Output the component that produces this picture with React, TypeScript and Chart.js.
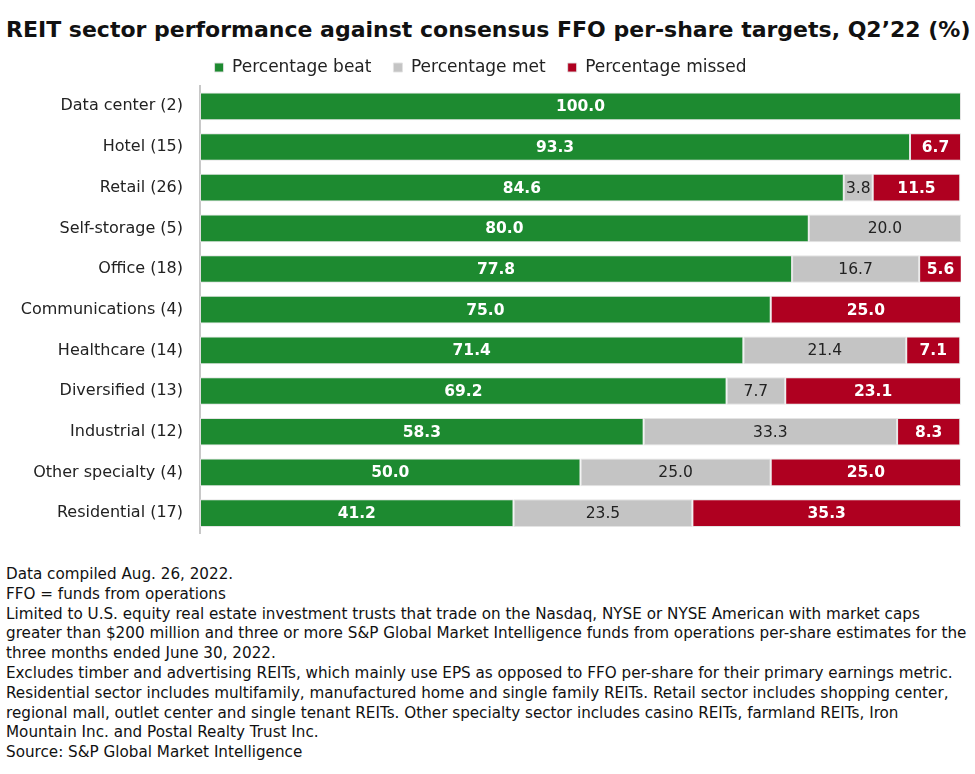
import React, { useEffect, useRef } from "react";
import { Chart, registerables } from "chart.js";

Chart.register(...registerables);

const categories = [
  "Data center (2)",
  "Hotel (15)",
  "Retail (26)",
  "Self-storage (5)",
  "Office (18)",
  "Communications (4)",
  "Healthcare (14)",
  "Diversified (13)",
  "Industrial (12)",
  "Other specialty (4)",
  "Residential (17)",
];
const beat = [100.0, 93.3, 84.6, 80.0, 77.8, 75.0, 71.4, 69.2, 58.3, 50.0, 41.2];
const met = [0, 0, 3.8, 20.0, 16.7, 0, 21.4, 7.7, 33.3, 25.0, 23.5];
const missed = [0, 6.7, 11.5, 0, 5.6, 25.0, 7.1, 23.1, 8.3, 25.0, 35.3];

const seriesNames = ["Percentage beat", "Percentage met", "Percentage missed"];
const GREEN = "#1d8a30";
const GRAY = "#c4c4c4";
const RED = "#af0020";

const titleText = "REIT sector performance against consensus FFO per-share targets, Q2\u201922 (%)";
const notes = [
  "Data compiled Aug. 26, 2022.",
  "FFO = funds from operations",
  "Limited to U.S. equity real estate investment trusts that trade on the Nasdaq, NYSE or NYSE American with market caps",
  "greater than $200 million and three or more S&P Global Market Intelligence funds from operations per-share estimates for the",
  "three months ended June 30, 2022.",
  "Excludes timber and advertising REITs, which mainly use EPS as opposed to FFO per-share for their primary earnings metric.",
  "Residential sector includes multifamily, manufactured home and single family REITs.  Retail sector includes shopping center,",
  "regional mall, outlet center and single tenant REITs. Other specialty sector includes casino REITs, farmland REITs, Iron",
  "Mountain Inc. and Postal Realty Trust Inc.",
  "Source: S&P Global Market Intelligence",
];

const FONT = "'DejaVu Sans', Verdana, sans-serif";

const labelPlugin = {
  id: "barLabels",
  afterDatasetsDraw(chart: any) {
    const ctx = chart.ctx;
    ctx.save();
    ctx.textAlign = "center";
    ctx.textBaseline = "middle";
    chart.data.datasets.forEach((ds: any, di: number) => {
      const meta = chart.getDatasetMeta(di);
      meta.data.forEach((bar: any, i: number) => {
        const v = ds.data[i];
        if (!v) return;
        const isGray = di === 1;
        ctx.font = (isGray ? "normal " : "bold ") + "15.5px " + FONT;
        ctx.fillStyle = isGray ? "#222222" : "#ffffff";
        const cx = (bar.x + bar.base) / 2;
        ctx.fillText(v.toFixed(1), cx, bar.y + 1);
      });
    });
    ctx.restore();
  },
};

export default function App() {
  const ref = useRef<HTMLCanvasElement>(null);
  useEffect(() => {
    document.body.style.margin = "0";
    const chart = new Chart(ref.current!, {
      type: "bar",
      data: {
        labels: categories,
        datasets: [
          { label: seriesNames[0], data: beat, backgroundColor: GREEN },
          { label: seriesNames[1], data: met, backgroundColor: GRAY },
          { label: seriesNames[2], data: missed, backgroundColor: RED },
        ].map((d) => ({
          ...d,
          borderColor: "rgba(225,225,225,0.9)",
          borderWidth: 1,
          borderSkipped: false,
          barPercentage: 0.68,
          categoryPercentage: 1,
        })),
      },
      options: {
        indexAxis: "y",
        responsive: true,
        maintainAspectRatio: false,
        animation: false,
        devicePixelRatio: 1,
        layout: { padding: { left: 0, right: 14, top: 4, bottom: 6 } },
        plugins: {
          legend: {
            display: true,
            position: "top",
            align: "center",
            labels: {
              boxWidth: 9,
              boxHeight: 9,
              padding: 22,
              color: "#222",
              font: { size: 17, family: FONT },
            },
          },
          tooltip: { enabled: false },
        },
        scales: {
          x: { stacked: true, min: 0, max: 100, display: false },
          y: {
            stacked: true,
            grid: { display: false },
            border: { display: true, color: "#c8c8c8", width: 2 },
            ticks: {
              color: "#222",
              font: { size: 16, family: FONT },
              padding: 9,
            },
            afterFit(s: any) {
              s.width = 200;
            },
          },
        },
      },
      plugins: [labelPlugin],
    } as any);
    return () => chart.destroy();
  }, []);

  return (
    <div style={{ position: "relative", width: 975, height: 774, background: "#fff", fontFamily: FONT, color: "#111" }}>
      <div
        style={{
          position: "absolute",
          left: 6,
          top: 17,
          fontSize: 22,
          fontWeight: "bold",
          whiteSpace: "nowrap",
          color: "#111",
        }}
      >
        {titleText}
      </div>
      <div style={{ position: "absolute", left: 0, top: 33, width: 975, height: 519 }}>
        <canvas ref={ref} />
      </div>
      <div
        style={{
          position: "absolute",
          left: 6,
          top: 565,
          fontSize: 15.2,
          lineHeight: "19.8px",
          whiteSpace: "nowrap",
          color: "#111",
        }}
      >
        {notes.map((n, i) => (
          <div key={i}>{n}</div>
        ))}
      </div>
    </div>
  );
}
